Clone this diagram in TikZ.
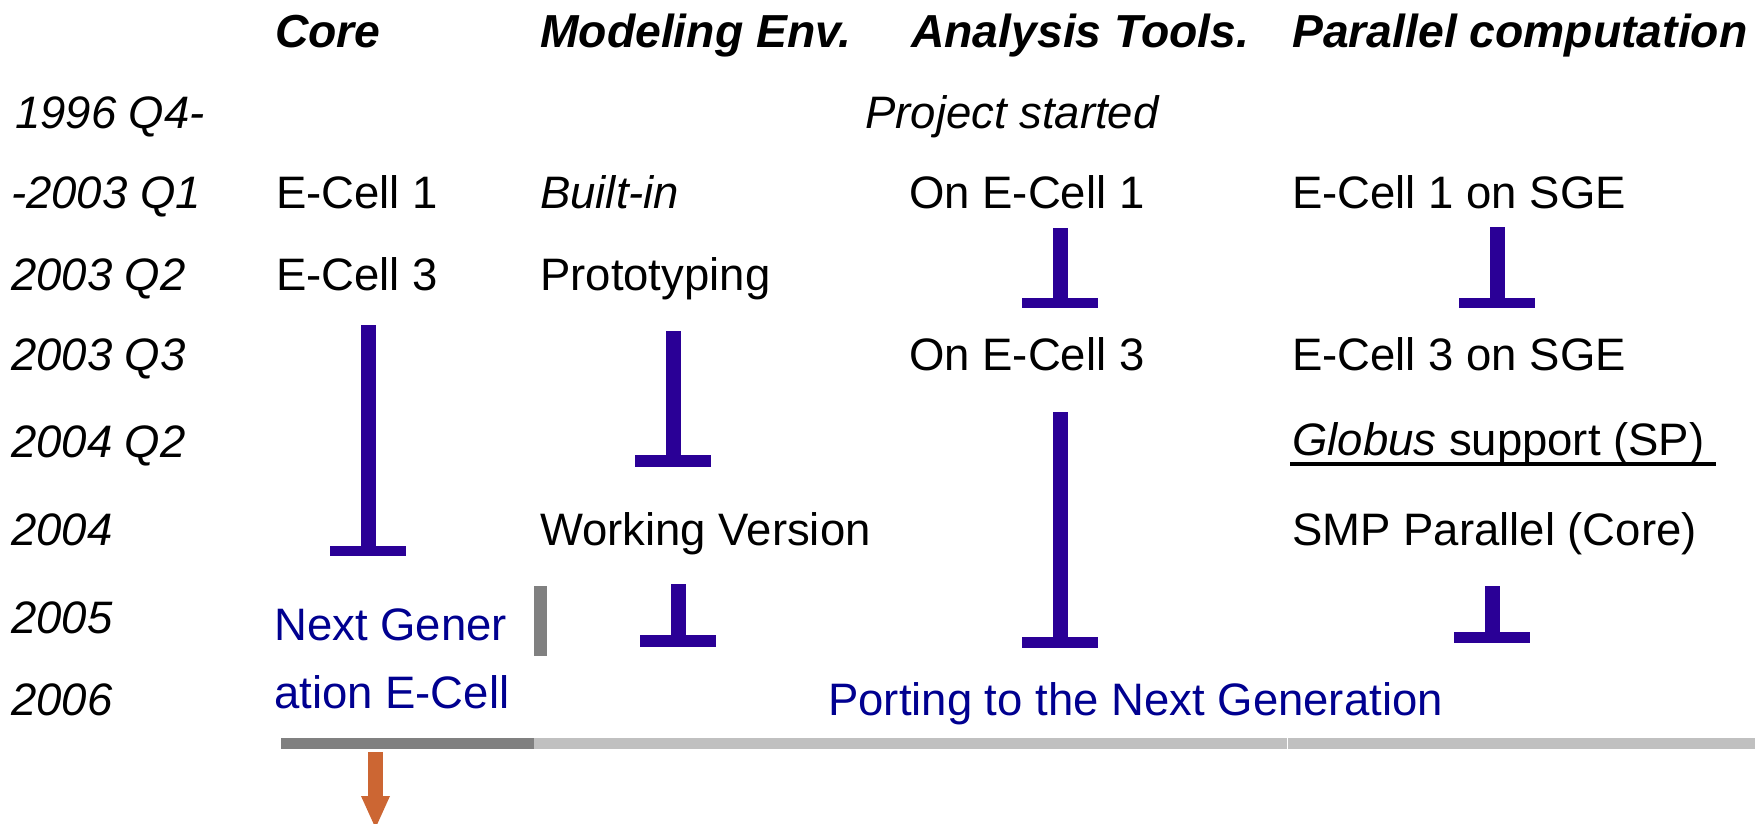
\documentclass[tikz,border=0pt]{standalone}
\usepackage{fontspec}
\setmainfont{Liberation Sans}
\definecolor{tcol}{HTML}{2A0096}
\definecolor{navy}{HTML}{000090}
\definecolor{darkbar}{HTML}{808080}
\definecolor{lightbar}{HTML}{C0C0C0}
\definecolor{arrowc}{HTML}{CC6633}
\tikzset{
  txt/.style={anchor=base west, inner sep=0pt, font=\fontsize{45.5}{54}\selectfont},
  head/.style={txt, font=\fontsize{46.3}{54}\selectfont\bfseries\itshape},
  yr/.style={txt, font=\fontsize{45.5}{54}\selectfont\itshape},
  nav/.style={txt, text=navy},
  tfill/.style={fill=tcol},
}
\newcommand{\tmark}[5]{% name, center x, top y, bar top y, bar bottom y
  \coordinate (#1-top) at (#2,#3);
  \coordinate (#1-bot) at (#2,#4);
  \fill[tfill] ([xshift=-7.5pt]#1-top) rectangle ([xshift=7.5pt]#1-bot);
  \fill[tfill] (#2-38,#4) rectangle (#2+38,#5);
}
\begin{document}
\begin{tikzpicture}[x=1pt,y=-1pt]
\useasboundingbox[fill=white] (0,0) rectangle (1762,823);
% headers
\node[head] (hcore) at (275,47) {Core};
\node[head] (hmod) at (540,47) {Modeling Env.};
\node[head] (hana) at (911,47) {Analysis Tools.};
\node[head] (hpar) at (1292,47) {Parallel computation};
% years
\node[yr] (y1) at (15,128) {1996 Q4-};
\node[yr] (y2) at (11,208) {-2003 Q1};
\node[yr] (y3) at (11,290) {2003 Q2};
\node[yr] (y4) at (11,370) {2003 Q3};
\node[yr] (y5) at (11,457) {2004 Q2};
\node[yr] (y6) at (11,545) {2004};
\node[yr] (y7) at (11,633) {2005};
\node[yr] (y8) at (11,715) {2006};
% contents
\node[yr] (proj) at (865,128) {Project started};
\node[txt] (ec1) at (276,208) {E-Cell 1};
\node[yr] (built) at (540,208) {Built-in};
\node[txt] (oe1) at (909,208) {On E-Cell 1};
\node[txt] (sge1) at (1292,208) {E-Cell 1 on SGE};
\node[txt] (ec3) at (276,290) {E-Cell 3};
\node[txt] (proto) at (540,290) {Prototyping};
\node[txt] (oe3) at (909,370) {On E-Cell 3};
\node[txt] (sge3) at (1292,370) {E-Cell 3 on SGE};
\node[txt] (glob) at (1292,455) {\textit{Globus} support (SP)};
\draw[line width=4pt] (1290,464) -- (1716,464);
\node[txt] (work) at (540,545) {Working Version};
\node[txt] (smp) at (1292,545) {SMP Parallel (Core)};
\node[nav] (ng1) at (274,640) {Next Gener};
\node[nav] (ng2) at (274,708) {ation E-Cell};
\node[nav] (port) at (828,715) {Porting to the Next Generation};
% T marks
\tmark{tcore}{368}{325}{546}{556}
\tmark{tmod1}{673}{331}{455}{467}
\tmark{tmod2}{678}{584}{635}{647}
\tmark{tana1}{1060}{228}{298}{308}
\tmark{tana2}{1060}{412}{637}{648}
\tmark{tpar1}{1497}{227}{298}{308}
\tmark{tpar3}{1492}{586}{632}{643}
% gray vertical bar
\fill[darkbar] (534,586) rectangle (547,656);
% bottom bars
\fill[darkbar] (281,738) rectangle (534,749);
\fill[lightbar] (534,738) rectangle (1286.6,749);
\fill[lightbar] (1287.8,738) rectangle (1755,749);
% orange arrow
\coordinate (astart) at (375.5,752);
\coordinate (aend) at (375.5,828);
\fill[arrowc] (368,752) rectangle (383,797) ;
\fill[arrowc] (361,796) -- (390,796) -- (aend) -- cycle;
\end{tikzpicture}
\end{document}
